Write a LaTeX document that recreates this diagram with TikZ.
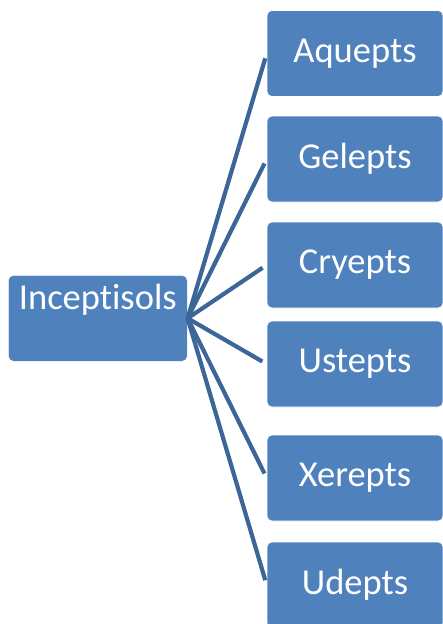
\documentclass[tikz,border=0pt]{standalone}
\usepackage{fontspec}
\setmainfont{Carlito}[Ligatures=NoCommon]
\usepackage{tikz}
\usetikzlibrary{positioning, calc}
\definecolor{boxblue}{HTML}{4F81BD}
\definecolor{linkblue}{HTML}{3C6698}
\tikzset{
    rootbox/.style={draw=white, line width=0.6pt, fill=boxblue, rounded corners=5pt, text=white, inner sep=0pt, minimum width=179pt, text height=34pt, text depth=52pt, font=\fontsize{36.5}{40}\selectfont},
    ordbox/.style={draw=white, line width=0.6pt, fill=boxblue, rounded corners=5pt, text=white, inner sep=0pt, minimum width=176pt, minimum height=86pt, font=\fontsize{36.5}{40}\selectfont},
    link/.style={draw=linkblue, line width=4.2pt, shorten >=5pt},
}

\begin{document}
\begin{tikzpicture}[x=1pt, y=-1pt]
\useasboundingbox (0,0) rectangle (443,624);

\node[rootbox, anchor=north west] (incept) at (8,275) {Inceptisols};

\node[ordbox] (aquepts) at (355,53.5) {Aquepts};
\node[ordbox] (gelepts) at (355,159) {Gelepts};
\node[ordbox] (cryepts) at (355,265) {Cryepts};
\node[ordbox] (ustepts) at (355,364) {Ustepts};
\node[ordbox] (xerepts) at (355,478) {Xerepts};
\node[ordbox] (udepts) at (355,585) {Udepts};

\foreach \sub in {aquepts, gelepts, cryepts, ustepts, xerepts, udepts}
    \draw[link] (incept.east) -- (\sub.west);
\end{tikzpicture}
\end{document}
